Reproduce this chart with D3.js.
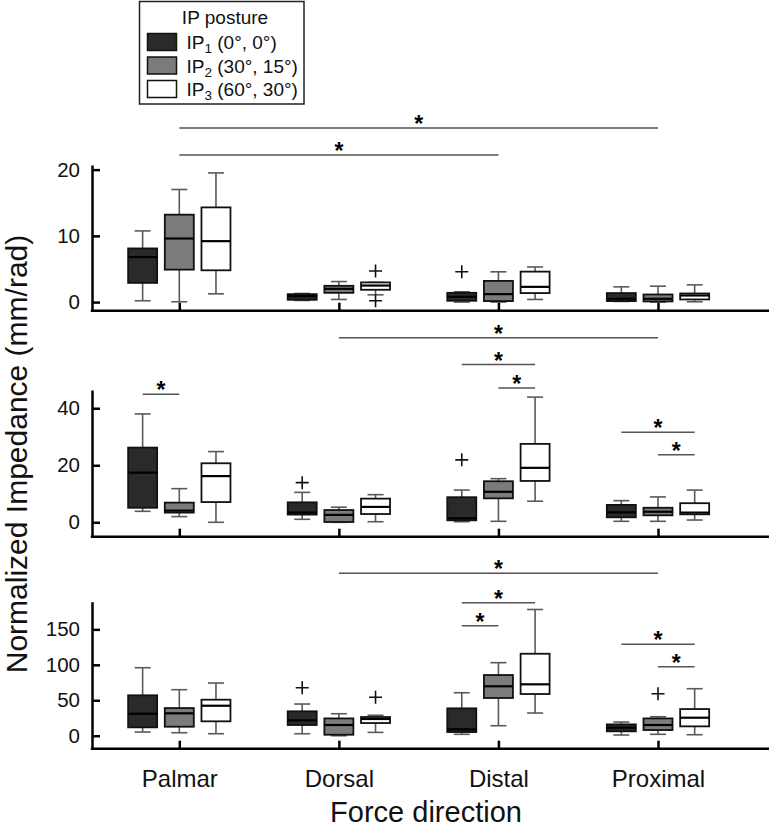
<!DOCTYPE html>
<html><head><meta charset="utf-8">
<script src="https://cdn.jsdelivr.net/npm/d3@7"></script>
<style>body{margin:0;background:#fff}svg{display:block}text{font-family:"Liberation Sans",Arial,sans-serif}</style>
</head><body><svg id="c" width="771" height="831"></svg>
<script>
// ---------- data ----------
const categories = ["Palmar", "Dorsal", "Distal", "Proximal"];
const series = ["IP1", "IP2", "IP3"];
const seriesLabels = [["IP", "1", " (0°, 0°)"], ["IP", "2", " (30°, 15°)"], ["IP", "3", " (60°, 30°)"]];
const seriesColors = ["#2a2a2a", "#7b7b7b", "#ffffff"];

// box stats per category: [whiskerLow, Q1, median, Q3, whiskerHigh]
const p1_IP1 = [[0.2, 2.9, 6.8, 8.1, 10.75], [0.25, 0.35, 0.9, 1.2, 1.3], [0, 0.2, 0.8, 1.4, 1.55], [0.1, 0.15, 0.5, 1.36, 2.3]];
const p1_IP2 = [[0.05, 4.9, 9.6, 13.2, 17.0], [0.4, 1.4, 2.0, 2.46, 3.1], [0, 0.15, 1.2, 3.2, 4.57], [0, 0.1, 0.5, 1.15, 2.4]];
const p1_IP3 = [[1.25, 4.8, 9.2, 14.3, 19.5], [1.1, 1.86, 2.5, 2.97, 2.97], [0.4, 1.36, 2.3, 4.6, 5.3], [0.05, 0.4, 1.0, 1.3, 2.6]];

const p2_IP1 = [[3.85, 5.1, 17.4, 26.2, 38.0], [1.05, 2.7, 3.4, 7.0, 10.5], [0.2, 0.7, 1.4, 8.8, 11.3], [0.35, 1.75, 3.5, 6.1, 7.6]];
const p2_IP2 = [[2.0, 3.4, 4.1, 6.9, 11.8], [0, 0.1, 2.6, 4.3, 5.3], [0.35, 8.4, 10.7, 14.4, 15.3], [0.35, 2.45, 3.7, 5.1, 8.9]];
const p2_IP3 = [[0, 7.1, 16.2, 20.7, 24.8], [0.2, 2.9, 5.4, 8.3, 9.7], [7.4, 14.5, 19.1, 27.5, 43.9], [0.8, 2.8, 3.4, 6.7, 11.3]];

const p3_IP1 = [[5.2, 11.8, 31, 57, 95.9], [2.8, 15.1, 21.7, 34.4, 44.7], [2.0, 5.2, 9.0, 38.6, 60.6], [1, 6.2, 11.3, 16, 19.3]];
const p3_IP2 = [[4.2, 12.7, 31.6, 39, 64.9], [0, 1.4, 15.1, 24.4, 31], [14.1, 53.2, 69.7, 85.6, 103], [2, 8, 15.1, 24.4, 26.8]];
const p3_IP3 = [[2.8, 20.3, 42.3, 50.8, 74.3], [4.7, 17.9, 23.6, 26.4, 28.8], [32, 58.8, 72.5, 115.6, 178], [1.4, 13.2, 25.4, 37.6, 66.3]];

// outliers: [category, series, value]
const p1_outliers = [["Dorsal", "IP3", 4.7], ["Dorsal", "IP3", 0.2], ["Distal", "IP1", 4.57]];
const p2_outliers = [["Dorsal", "IP1", 13.9], ["Distal", "IP1", 21.9]];
const p3_outliers = [["Dorsal", "IP1", 67.7], ["Dorsal", "IP3", 54.2], ["Proximal", "IP2", 59.2]];

// significance bars: [fromCat, fromSeries, toCat, toSeries, level (data units)]
const p1_sig = [["Palmar", "IP2", "Proximal", "IP2", 26.3], ["Palmar", "IP2", "Distal", "IP2", 22.2]];
const p2_sig = [["Palmar", "IP1", "Palmar", "IP2", 44.9], ["Dorsal", "IP2", "Proximal", "IP2", 64.7],
  ["Distal", "IP1", "Distal", "IP3", 55.3], ["Distal", "IP2", "Distal", "IP3", 47.1],
  ["Proximal", "IP1", "Proximal", "IP3", 31.6], ["Proximal", "IP2", "Proximal", "IP3", 23.7]];
const p3_sig = [["Dorsal", "IP2", "Proximal", "IP2", 229], ["Distal", "IP1", "Distal", "IP3", 187.6],
  ["Distal", "IP1", "Distal", "IP2", 155.2], ["Proximal", "IP1", "Proximal", "IP3", 128.9],
  ["Proximal", "IP2", "Proximal", "IP3", 97.3]];

const p1_ticks = [0, 10, 20];
const p2_ticks = [0, 20, 40];
const p3_ticks = [0, 50, 100, 150];

const xTitle = "Force direction";
const yTitle = "Normalized Impedance (mm/rad)";
const legendTitle = "IP posture";

// ---------- layout ----------
const svg = d3.select("#c");
const FONT = "Liberation Sans, Arial, sans-serif";
const axisX0 = 92, axisX1 = 769;
const x = d3.scalePoint().domain(categories).range([179.3, 658]);
const xs = d3.scaleBand().domain(series).range([-55, 55]);
const boxW = 29, capW = 16;

const panels = [
  {stats: [p1_IP1, p1_IP2, p1_IP3], outliers: p1_outliers, sig: p1_sig, ticks: p1_ticks,
   y: d3.scaleLinear().domain([-1.3, 20.7]).range([310.7, 165])},
  {stats: [p2_IP1, p2_IP2, p2_IP3], outliers: p2_outliers, sig: p2_sig, ticks: p2_ticks,
   y: d3.scaleLinear().domain([-5.05, 46.4]).range([536.7, 390])},
  {stats: [p3_IP1, p3_IP2, p3_IP3], outliers: p3_outliers, sig: p3_sig, ticks: p3_ticks,
   y: d3.scaleLinear().domain([-18.3, 189]).range([748.7, 601.7])}
];

const cx = (c, s) => x(c) + xs(s) + xs.bandwidth() / 2;

panels.forEach((p, pi) => {
  const g = svg.append("g");
  const y = p.y;
  const yBottom = y.range()[0];

  // y axis
  const ya = g.append("g").attr("transform", `translate(${axisX0},0)`)
    .call(d3.axisLeft(y).tickValues(p.ticks).tickSizeInner(-8).tickSizeOuter(0).tickPadding(12).tickFormat(d3.format("d")));
  ya.select(".domain").attr("stroke", "#000").attr("stroke-width", 2.5);
  ya.selectAll(".tick line").attr("stroke", "#000").attr("stroke-width", 2.5);
  ya.selectAll(".tick text").attr("font-size", 20.5).attr("fill", "#111").attr("font-family", FONT);

  // x axis
  const xa = g.append("g").attr("transform", `translate(0,${yBottom})`)
    .call(d3.axisBottom(x).tickSizeInner(-8).tickSizeOuter(0).tickPadding(21));
  xa.select(".domain").remove();
  xa.selectAll(".tick line").attr("stroke", "#000").attr("stroke-width", 2.5);
  xa.selectAll(".tick text").attr("font-size", 24).attr("fill", "#111")
    .attr("font-family", FONT)
    .style("display", pi === 2 ? null : "none");
  g.append("line").attr("x1", axisX0 - 1.2).attr("x2", axisX1).attr("y1", yBottom).attr("y2", yBottom)
    .attr("stroke", "#000").attr("stroke-width", 2.5);

  // boxes
  series.forEach((s, si) => {
    p.stats[si].forEach((st, ci) => {
      const c = categories[ci];
      const X = cx(c, s);
      const [lo, q1, md, q3, hi] = st;
      const bg = g.append("g");
      bg.append("line").attr("x1", X).attr("x2", X).attr("y1", y(q3)).attr("y2", y(hi)).attr("stroke", "#5a5a5a").attr("stroke-width", 1.6);
      bg.append("line").attr("x1", X).attr("x2", X).attr("y1", y(q1)).attr("y2", y(lo)).attr("stroke", "#5a5a5a").attr("stroke-width", 1.6);
      bg.append("line").attr("x1", X - capW / 2).attr("x2", X + capW / 2).attr("y1", y(hi)).attr("y2", y(hi)).attr("stroke", "#5a5a5a").attr("stroke-width", 1.6);
      bg.append("line").attr("x1", X - capW / 2).attr("x2", X + capW / 2).attr("y1", y(lo)).attr("y2", y(lo)).attr("stroke", "#5a5a5a").attr("stroke-width", 1.6);
      bg.append("rect").attr("x", X - boxW / 2).attr("width", boxW)
        .attr("y", y(q3)).attr("height", Math.max(1, y(q1) - y(q3)))
        .attr("fill", seriesColors[si]).attr("stroke", "#111").attr("stroke-width", 1.8);
      bg.append("line").attr("x1", X - boxW / 2).attr("x2", X + boxW / 2).attr("y1", y(md)).attr("y2", y(md))
        .attr("stroke", "#000").attr("stroke-width", 2.2);
    });
  });

  // outliers
  p.outliers.forEach(([c, s, v]) => {
    const X = cx(c, s), Y = y(v);
    g.append("path").attr("d", `M${X - 6.5},${Y}H${X + 6.5}M${X},${Y - 6.5}V${Y + 6.5}`)
      .attr("stroke", "#111").attr("stroke-width", 1.6).attr("fill", "none");
  });

  // significance
  p.sig.forEach(([c1, s1, c2, s2, lv]) => {
    const X1 = cx(c1, s1), X2 = cx(c2, s2), Y = y(lv);
    g.append("line").attr("x1", X1).attr("x2", X2).attr("y1", Y).attr("y2", Y)
      .attr("stroke", "#555").attr("stroke-width", 1.5);
    g.append("text").attr("x", (X1 + X2) / 2).attr("y", Y + 4).attr("text-anchor", "middle")
      .attr("font-size", 23).attr("font-weight", "bold").attr("fill", "#000").text("*");
  });
});

// axis titles
svg.append("text").attr("x", 426).attr("y", 822).attr("text-anchor", "middle")
  .attr("font-size", 29).attr("fill", "#111").text(xTitle);
svg.append("text").attr("transform", "translate(27,454) rotate(-90)").attr("text-anchor", "middle")
  .attr("font-size", 30).attr("fill", "#111").text(yTitle);

// legend
const lg = svg.append("g");
lg.append("rect").attr("x", 139.5).attr("y", 1.5).attr("width", 164.5).attr("height", 102.5)
  .attr("fill", "#fff").attr("stroke", "#222").attr("stroke-width", 1.5);
lg.append("text").attr("x", 225).attr("y", 24).attr("text-anchor", "middle").attr("font-size", 19).attr("fill", "#111").text(legendTitle);
series.forEach((s, i) => {
  const cy = 42 + i * 23.5;
  lg.append("rect").attr("x", 147.5).attr("y", cy - 8.5).attr("width", 29).attr("height", 17)
    .attr("fill", seriesColors[i]).attr("stroke", "#111").attr("stroke-width", 1.5);
  const t = lg.append("text").attr("x", 186.5).attr("y", cy + 7).attr("font-size", 19).attr("fill", "#111");
  t.append("tspan").text(seriesLabels[i][0]);
  t.append("tspan").attr("font-size", 13.5).attr("dy", 4).text(seriesLabels[i][1]);
  t.append("tspan").attr("dy", -4).text(seriesLabels[i][2]);
});
</script></body></html>
